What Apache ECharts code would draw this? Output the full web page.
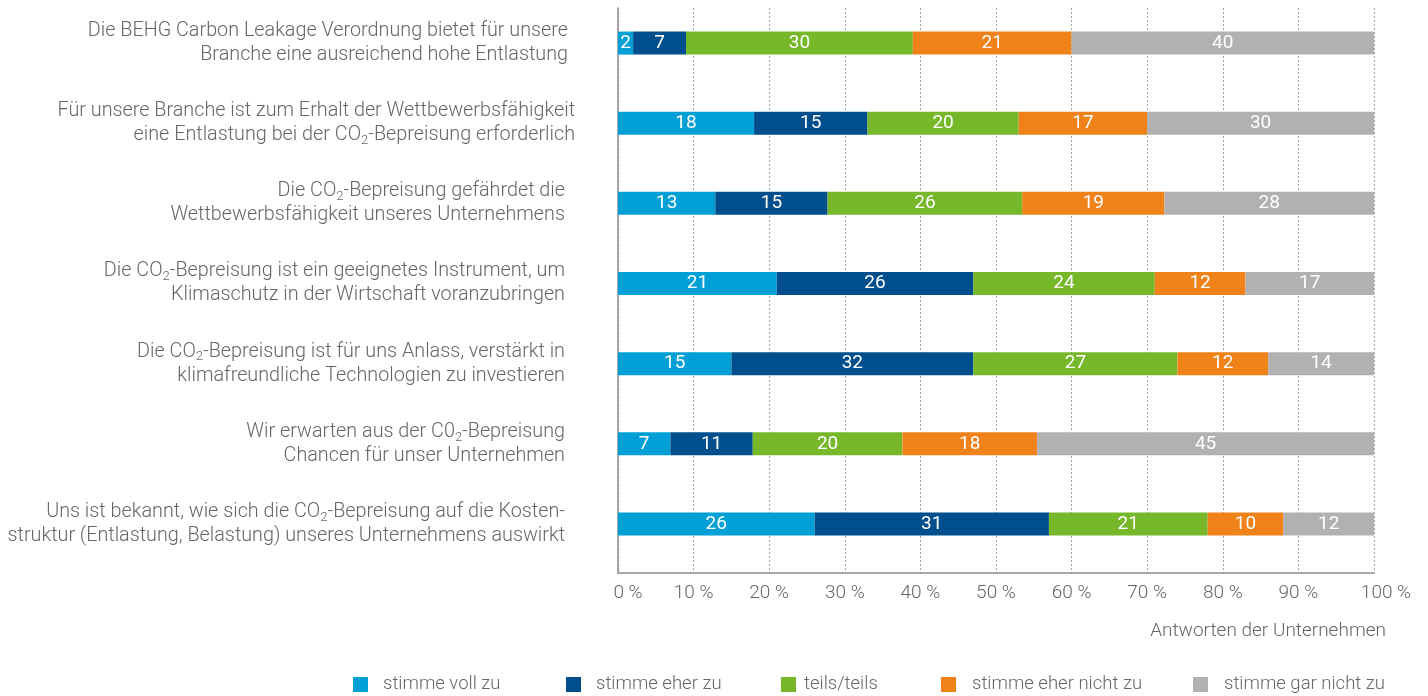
<!DOCTYPE html>
<html lang="de">
<head>
<meta charset="utf-8">
<title>CO₂-Bepreisung – Antworten der Unternehmen</title>
<script src="https://cdn.jsdelivr.net/npm/echarts@6/dist/echarts.min.js"></script>
<style>
  html, body { margin: 0; padding: 0; background: #ffffff; }
  #chart { width: 1428px; height: 696px; }
</style>
</head>
<body>
<div id="chart"></div>
<script>
// Statements (top to bottom)
const statements = [
  'Die BEHG Carbon Leakage Verordnung bietet für unsere\nBranche eine ausreichend hohe Entlastung',
  'Für unsere Branche ist zum Erhalt der Wettbewerbsfähigkeit\neine Entlastung bei der CO₂-Bepreisung erforderlich',
  'Die CO₂-Bepreisung gefährdet die\nWettbewerbsfähigkeit unseres Unternehmens',
  'Die CO₂-Bepreisung ist ein geeignetes Instrument, um\nKlimaschutz in der Wirtschaft voranzubringen',
  'Die CO₂-Bepreisung ist für uns Anlass, verstärkt in\nklimafreundliche Technologien zu investieren',
  'Wir erwarten aus der C0₂-Bepreisung\nChancen für unser Unternehmen',
  'Uns ist bekannt, wie sich die CO₂-Bepreisung auf die Kosten-\nstruktur (Entlastung, Belastung) unseres Unternehmens auswirkt'
];

// Answer categories
const answerNames = ['stimme voll zu', 'stimme eher zu', 'teils/teils', 'stimme eher nicht zu', 'stimme gar nicht zu'];

// Shares of responses (%) per statement
const stimmeVollZu      = [2, 18, 13, 21, 15, 7, 26];
const stimmeEherZu      = [7, 15, 15, 26, 32, 11, 31];
const teilsTeils        = [30, 20, 26, 24, 27, 20, 21];
const stimmeEherNichtZu = [21, 17, 19, 12, 12, 18, 10];
const stimmeGarNichtZu  = [40, 30, 28, 17, 14, 45, 12];

// Axis ticks
const axisTicks = [0, 10, 20, 30, 40, 50, 60, 70, 80, 90, 100];

const answerValues = [stimmeVollZu, stimmeEherZu, teilsTeils, stimmeEherNichtZu, stimmeGarNichtZu];
const colors = ['#00a0d7', '#004f8c', '#76b82a', '#f0821a', '#b1b1b1'];

const FONT = 'Roboto';
const TEXT = '#666666';
const FS = 19;

// Each bar fills the full width: segments are scaled to the row total
const rowTotals = statements.map((_, i) => answerValues.reduce((s, arr) => s + arr[i], 0));

const series = answerNames.map((name, k) => ({
  name: name,
  type: 'bar',
  stack: 'antworten',
  xAxisIndex: 0,
  yAxisIndex: 0,
  barWidth: 23,
  itemStyle: { color: colors[k] },
  label: {
    show: true,
    position: 'inside',
    color: '#ffffff',
    fontFamily: FONT,
    fontSize: 19,
    formatter: p => String(p.data.raw)
  },
  emphasis: { disabled: true },
  data: answerValues[k].map((v, i) => ({ value: v / rowTotals[i] * 100, raw: v }))
}));

// Row labels with subscript "2" and a small trailing spacer for alignment
const rowSpacer = [7, 0, 10, 10, 10, 10, 10];
function formatStatement(label, idx) {
  return label.split('\n').map(line => {
    const parts = line.split('₂');
    let out = '';
    parts.forEach((p, j) => {
      if (p.length) out += '{t|' + p + '}';
      if (j < parts.length - 1) out += '{sub|2}';
    });
    if (rowSpacer[idx] > 0) out += '{sp' + rowSpacer[idx] + '| }';
    return out;
  }).join('\n');
}

const rich = {
  t:   { fontFamily: FONT, fontSize: 19.8, fontWeight: 300, color: TEXT, lineHeight: 24 },
  sub: { fontFamily: FONT, fontSize: 13, fontWeight: 300, color: TEXT, lineHeight: 9, verticalAlign: 'bottom' },
  sp7:  { width: 7,  fontSize: FS, lineHeight: 24 },
  sp10: { width: 10, fontSize: FS, lineHeight: 24 }
};

// One legend per entry so each item sits at its own position
const legendLefts = [353, 566, 781, 941, 1193];
const legendGaps  = [10, 10, 3, 11, 11];
const legends = answerNames.map((name, k) => ({
  data: [name],
  left: legendLefts[k],
  top: 675,
  icon: 'rect',
  itemWidth: 15,
  itemHeight: 15,
  selectedMode: false,
  padding: 0,
  textStyle: {
    fontFamily: FONT, fontSize: 18.5, fontWeight: 300, color: TEXT,
    padding: [0, 0, 0, legendGaps[k]]
  }
}));

const option = {
  animation: false,
  backgroundColor: '#ffffff',
  title: {
    text: 'Antworten der Unternehmen',
    right: 42,
    top: 622,
    padding: 0,
    textStyle: { fontFamily: FONT, fontSize: FS, fontWeight: 300, color: TEXT }
  },
  legend: legends,
  grid: [
    { left: 618, right: 54, top: 3, height: 561 },   // bars
    { left: 618, right: 54, top: 8, bottom: 123 }     // axes and grid lines
  ],
  xAxis: [
    { gridIndex: 0, type: 'value', min: 0, max: 100, show: false },
    {
      gridIndex: 1, type: 'value', min: 0, max: 100, interval: 10,
      axisLine: { show: true, lineStyle: { color: '#8c8c8c', width: 1.5 } },
      axisTick: { show: false },
      splitLine: { show: true, lineStyle: { color: '#a8a8a8', type: [2, 2], width: 1 } },
      axisLabel: {
        margin: 11,
        fontFamily: FONT, fontSize: FS, fontWeight: 300, color: TEXT,
        formatter: v => v === 0 ? '{a|0 %}' : (v === 100 ? '{b|100 %}' : v + ' %'),
        rich: {
          a: { fontFamily: FONT, fontSize: FS, fontWeight: 300, color: TEXT, padding: [0, 0, 0, 20] },
          b: { fontFamily: FONT, fontSize: FS, fontWeight: 300, color: TEXT, padding: [0, 0, 0, 24] }
        }
      },
      data: axisTicks
    }
  ],
  yAxis: [
    {
      gridIndex: 0, type: 'category', inverse: true, data: statements,
      axisLine: { show: false }, axisTick: { show: false },
      axisLabel: {
        margin: 43,
        align: 'right',
        formatter: formatStatement,
        rich: rich
      }
    },
    {
      gridIndex: 1, type: 'value', min: 0, max: 1,
      axisLine: { show: true, lineStyle: { color: '#8c8c8c', width: 1.5 } },
      axisTick: { show: false }, axisLabel: { show: false }, splitLine: { show: false }
    }
  ],
  series: series
};

const chart = echarts.init(document.getElementById('chart'), null, { renderer: 'canvas' });
chart.setOption(option);
</script>
</body>
</html>
